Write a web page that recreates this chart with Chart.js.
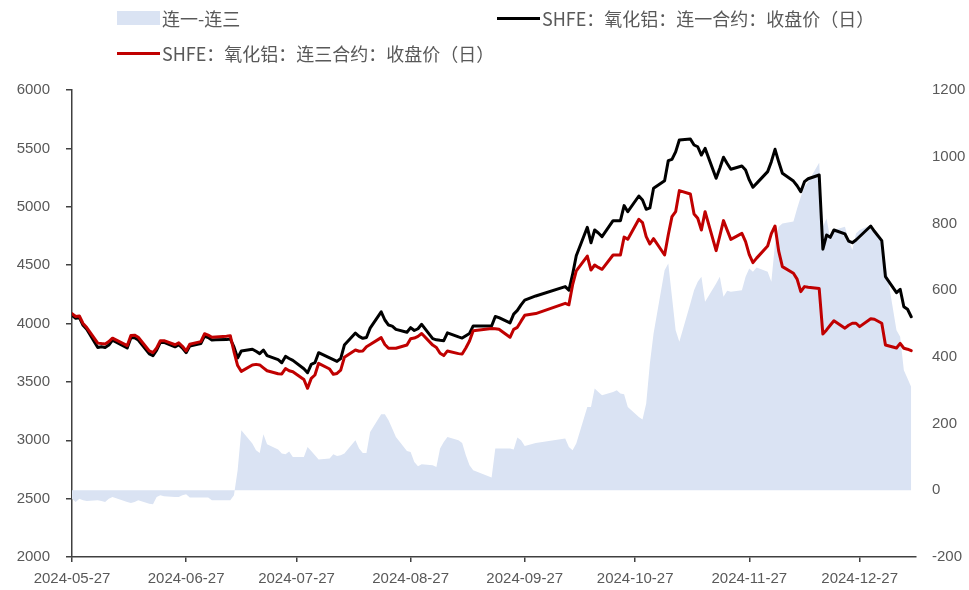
<!DOCTYPE html>
<html>
<head>
<meta charset="utf-8">
<script src="https://cdn.jsdelivr.net/npm/chart.js@4.4.1/dist/chart.umd.min.js"></script>
<style>
    body { margin: 0; background: #fff; }
    #wrap { position: relative; width: 969px; height: 590px; }
    .leg { position: absolute; font-family: "Noto Sans CJK SC", sans-serif; font-size: 18px; color: #595959; line-height: 20px; white-space: nowrap; }
    .sw { position: absolute; }
</style>
</head>
<body>
<div id="wrap">
    <canvas id="myChart" width="969" height="590"></canvas>
    <div class="sw" style="left:117px;top:11px;width:43px;height:14px;background:#dae3f3"></div>
    <div class="leg" style="left:162px;top:8px">连一-连三</div>
    <div class="sw" style="left:497px;top:16.5px;width:43px;height:3px;background:#000"></div>
    <div class="leg" style="left:542px;top:8px">SHFE：氧化铝：连一合约：收盘价（日）</div>
    <div class="sw" style="left:117px;top:51.5px;width:43px;height:3px;background:#c00000"></div>
    <div class="leg" style="left:162px;top:43px">SHFE：氧化铝：连三合约：收盘价（日）</div>
</div>
<script>
// trading days
const dates = [
    '2024-05-27', '2024-05-28', '2024-05-29', '2024-05-30', '2024-05-31',
    '2024-06-03', '2024-06-04', '2024-06-05', '2024-06-06', '2024-06-07',
    '2024-06-11', '2024-06-12', '2024-06-13', '2024-06-14',
    '2024-06-17', '2024-06-18', '2024-06-19', '2024-06-20', '2024-06-21',
    '2024-06-24', '2024-06-25', '2024-06-26', '2024-06-27', '2024-06-28',
    '2024-07-01', '2024-07-02', '2024-07-03', '2024-07-04', '2024-07-05',
    '2024-07-08', '2024-07-09', '2024-07-10', '2024-07-11', '2024-07-12',
    '2024-07-15', '2024-07-16', '2024-07-17', '2024-07-18', '2024-07-19',
    '2024-07-22', '2024-07-23', '2024-07-24', '2024-07-25', '2024-07-26',
    '2024-07-29', '2024-07-30', '2024-07-31', '2024-08-01', '2024-08-02',
    '2024-08-05', '2024-08-06', '2024-08-07', '2024-08-08', '2024-08-09',
    '2024-08-12', '2024-08-13', '2024-08-14', '2024-08-15', '2024-08-16',
    '2024-08-19', '2024-08-20', '2024-08-21', '2024-08-22', '2024-08-23',
    '2024-08-26', '2024-08-27', '2024-08-28', '2024-08-29', '2024-08-30',
    '2024-09-02', '2024-09-03', '2024-09-04', '2024-09-05', '2024-09-06',
    '2024-09-09', '2024-09-10', '2024-09-11', '2024-09-12', '2024-09-13',
    '2024-09-18', '2024-09-19', '2024-09-20',
    '2024-09-23', '2024-09-24', '2024-09-25', '2024-09-26', '2024-09-27',
    '2024-09-30',
    '2024-10-08', '2024-10-09', '2024-10-10', '2024-10-11',
    '2024-10-14', '2024-10-15', '2024-10-16', '2024-10-17', '2024-10-18',
    '2024-10-21', '2024-10-22', '2024-10-23', '2024-10-24', '2024-10-25',
    '2024-10-28', '2024-10-29', '2024-10-30', '2024-10-31', '2024-11-01',
    '2024-11-04', '2024-11-05', '2024-11-06', '2024-11-07', '2024-11-08',
    '2024-11-11', '2024-11-12', '2024-11-13', '2024-11-14', '2024-11-15',
    '2024-11-18', '2024-11-19', '2024-11-20', '2024-11-21', '2024-11-22',
    '2024-11-25', '2024-11-26', '2024-11-27', '2024-11-28', '2024-11-29',
    '2024-12-02', '2024-12-03', '2024-12-04', '2024-12-05', '2024-12-06',
    '2024-12-09', '2024-12-10', '2024-12-11', '2024-12-12', '2024-12-13',
    '2024-12-16', '2024-12-17', '2024-12-18', '2024-12-19', '2024-12-20',
    '2024-12-23', '2024-12-24', '2024-12-25', '2024-12-26', '2024-12-27',
    '2024-12-30', '2024-12-31', '2025-01-02', '2025-01-03',
    '2025-01-06', '2025-01-07', '2025-01-08', '2025-01-09', '2025-01-10'
];

// SHFE 氧化铝 连一合约 收盘价
const near1 = [
    4070, 4045, 4050, 3985, 3950,
    3795, 3800, 3795, 3815, 3858,
    3790, 3878, 3878, 3858,
    3740, 3725, 3772, 3838, 3838,
    3800, 3818, 3790, 3750, 3808,
    3828, 3893, 3880, 3858, 3860,
    3862, 3868, 3800, 3705, 3765,
    3780, 3762, 3742, 3773, 3725,
    3690, 3664, 3718, 3700, 3684,
    3613, 3578, 3650, 3664, 3750,
    3705, 3690, 3675, 3700, 3815,
    3918, 3890, 3873, 3880, 3960,
    4100, 4030, 3987, 3978, 3950,
    3925, 3965, 3940, 3955, 3993,
    3870, 3860, 3856, 3853, 3920,
    3885, 3875, 3895, 3915, 3979,
    3979, 4060, 4050,
    4005, 4080, 4112, 4160, 4200,
    4236,
    4316, 4285, 4420, 4580,
    4824, 4692, 4801, 4775, 4744,
    4881, 4881, 4881, 5010, 4958,
    5092, 5058, 4978, 4990, 5158,
    5223, 5395, 5406, 5470, 5572,
    5580, 5529, 5514, 5443, 5500,
    5244, 5330, 5424, 5370, 5321,
    5349, 5315, 5230, 5167, 5200,
    5301, 5386, 5492, 5385, 5287,
    5220, 5180, 5129, 5215, 5240,
    5272, 4636, 4758, 4738, 4801,
    4767, 4705, 4692, 4715, 4745,
    4835, 4790, 4710, 4401,
    4264, 4293, 4144, 4122, 4058
];

// SHFE 氧化铝 连三合约 收盘价
const near3 = [
    4085, 4060, 4064, 4000, 3965,
    3832, 3828, 3825, 3845, 3874,
    3810, 3898, 3900, 3882,
    3765, 3750, 3790, 3852, 3853,
    3818, 3834, 3805, 3765, 3822,
    3845, 3912, 3900, 3882, 3885,
    3890, 3896, 3760, 3640, 3590,
    3645, 3650, 3645, 3620, 3595,
    3570, 3568, 3614, 3595, 3587,
    3520, 3445, 3530, 3559, 3659,
    3610, 3565, 3572, 3600, 3710,
    3773, 3762, 3765, 3800, 3820,
    3879, 3820, 3788, 3788, 3788,
    3816, 3870, 3875, 3890, 3914,
    3815, 3795, 3745, 3725, 3765,
    3742, 3738, 3790, 3850, 3938,
    3958, 3955, 3950,
    3882, 3950, 3967, 4020, 4070,
    4085,
    4173, 4160, 4330, 4450,
    4578, 4458, 4501, 4480, 4464,
    4587, 4587, 4587, 4740, 4721,
    4893, 4864, 4744, 4681, 4727,
    4587, 4760, 4915, 4958, 5138,
    5109, 4938, 4901, 4801, 4958,
    4624, 4750, 4881, 4800, 4721,
    4772, 4701, 4590, 4521, 4560,
    4664, 4770, 4835, 4620, 4487,
    4430, 4380, 4273, 4316, 4310,
    4299, 3910, 3945, 3985, 4024,
    3960, 3985, 4002, 4002, 3973,
    4041, 4036, 4002, 3816,
    3790, 3830, 3788, 3780, 3767
];

// 连一-连三 (right axis)
const spread = [
    -25, -35, -25, -30, -32,
    -30, -32, -35, -25, -20,
    -35, -38, -35, -30,
    -40, -42, -20, -15, -18,
    -20, -20, -15, -12, -22,
    -22, -22, -22, -30, -30,
    -30, -30, -15, 60, 180,
    140, 120, 112, 168, 138,
    122, 110, 108, 116, 100,
    100, 130, 118, 105, 92,
    95, 108, 103, 105, 110,
    150, 125, 112, 112, 175,
    228, 228, 210, 185, 160,
    118, 115, 85, 72, 78,
    75, 70, 125, 145, 160,
    150, 142, 105, 75, 60,
    38, 125, 125,
    125, 122, 158, 150, 133,
    142,
    155, 130, 120, 140,
    250, 250, 305, 295, 285,
    295, 300, 290, 288, 250,
    220, 212, 260, 380, 470,
    660, 680, 580, 480, 445,
    560, 600, 625, 640, 565,
    620, 640, 580, 598, 595,
    600, 640, 665, 655, 668,
    655, 625, 740, 790, 800,
    806, 845, 880, 910, 925,
    982, 790, 815, 755, 780,
    790, 750, 720, 770, 780,
    795, 780, 750, 680,
    480, 460, 360, 335, 310
];

const xTickDates = ['2024-05-27', '2024-06-27', '2024-07-27', '2024-08-27',
    '2024-09-27', '2024-10-27', '2024-11-27', '2024-12-27'];

const axisColor = '#404040';
const labelColor = '#595959';
const tickFont = { family: 'Liberation Sans', size: 15 };

const startDay = Date.UTC(2024, 4, 27);

// date string -> days since 2024-05-27
function dayNum(s) {
    const p = s.split('-');
    return (Date.UTC(+p[0], +p[1] - 1, +p[2]) - startDay) / 86400000;
}

function dayLabel(n) {
    return new Date(startDay + n * 86400000).toISOString().slice(0, 10);
}

function toPoints(values) {
    return dates.map((d, i) => ({ x: dayNum(d), y: values[i] }));
}

const ctx = document.getElementById('myChart').getContext('2d');
const myChart = new Chart(ctx, {
    type: 'line',
    data: {
        datasets: [
            {
                label: '连一-连三',
                data: toPoints(spread),
                yAxisID: 'y1',
                fill: 'origin',
                backgroundColor: '#dae3f3',
                borderColor: 'rgba(0,0,0,0)',
                borderWidth: 0,
                pointRadius: 0,
                order: 2
            },
            {
                label: 'SHFE：氧化铝：连一合约：收盘价（日）',
                data: toPoints(near1),
                yAxisID: 'y',
                fill: false,
                borderColor: '#000000',
                borderWidth: 3,
                pointRadius: 0,
                order: 1
            },
            {
                label: 'SHFE：氧化铝：连三合约：收盘价（日）',
                data: toPoints(near3),
                yAxisID: 'y',
                fill: false,
                borderColor: '#c00000',
                borderWidth: 3,
                pointRadius: 0,
                order: 0
            }
        ]
    },
    options: {
        responsive: false,
        animation: false,
        devicePixelRatio: 1,
        layout: { padding: { top: 90, left: 0, right: 0, bottom: 0 } },
        plugins: {
            legend: { display: false },
            tooltip: { enabled: false }
        },
        elements: {
            line: { tension: 0, borderJoinStyle: 'round', borderCapStyle: 'round' }
        },
        scales: {
            x: {
                type: 'linear',
                min: 0,
                max: 229.3,
                afterBuildTicks: scale => {
                    scale.ticks = xTickDates.map(d => ({ value: dayNum(d) }));
                },
                afterFit: scale => { scale.height = 33; },
                ticks: {
                    callback: v => dayLabel(v),
                    autoSkip: false,
                    maxRotation: 0,
                    padding: 8,
                    color: labelColor,
                    font: tickFont
                },
                grid: { drawOnChartArea: false, tickLength: 5, color: axisColor, lineWidth: 1.5 },
                border: { color: axisColor, width: 1.5 }
            },
            y: {
                position: 'left',
                min: 2000,
                max: 6000,
                afterFit: scale => { scale.width = 72; },
                ticks: { stepSize: 500, padding: 16, color: labelColor, font: tickFont, callback: v => String(v) },
                grid: { drawOnChartArea: false, tickLength: 6, color: axisColor, lineWidth: 1.5 },
                border: { color: axisColor, width: 1.5 }
            },
            y1: {
                position: 'right',
                min: -200,
                max: 1200,
                afterFit: scale => { scale.width = 53; },
                ticks: { stepSize: 200, padding: 16, color: labelColor, font: tickFont, callback: v => String(v) },
                grid: { display: false, drawTicks: false },
                border: { display: false }
            }
        }
    }
});
</script>
</body>
</html>
